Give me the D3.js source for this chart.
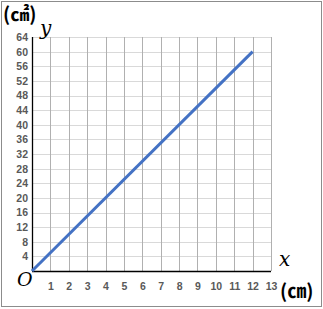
<!DOCTYPE html>
<html>
<head>
<meta charset="utf-8">
<script src="https://cdn.jsdelivr.net/npm/d3@7"></script>
<style>
  body { margin: 0; background: #fff; }
</style>
</head>
<body>
<div id="chart"></div>
<script>
// Data
const xValues = [0, 12];
const yValues = [0, 60];
const xTicks = [1, 2, 3, 4, 5, 6, 7, 8, 9, 10, 11, 12, 13];
const yTicks = [4, 8, 12, 16, 20, 24, 28, 32, 36, 40, 44, 48, 52, 56, 60, 64];

// Constant
const width = 323;
const height = 309;
const margin = {top: 37, right: 52, bottom: 38, left: 32};
const innerWidth = width - margin.left - margin.right;
const innerHeight = height - margin.top - margin.bottom;
const lineColor = '#4472C4';
const labelColor = '#595959';
const jpFont = '"Noto Sans CJK JP", "Noto Sans", sans-serif';
const mathFont = '"DejaVu Serif", "Liberation Serif", serif';

const xScale = d3.scaleLinear().domain([0, 13]).range([0, innerWidth]);
const yScale = d3.scaleLinear().domain([0, 64]).range([innerHeight, 0]);

const svg = d3.select('#chart')
    .append('svg')
        .attr('width', width)
        .attr('height', height);

// outer frame
svg.append('rect')
    .attr('x', 1.5)
    .attr('y', 1.5)
    .attr('width', 320)
    .attr('height', 305)
    .attr('fill', 'none')
    .attr('stroke', '#8c8c8c')
    .attr('stroke-width', 1);

const g = svg.append('g')
    .attr('transform', `translate(${margin.left},${margin.top})`);

// horizontal grid
g.selectAll('.hGrid')
    .data(yTicks)
    .enter()
    .append('line')
    .attr('class', 'hGrid')
    .attr('x1', 0)
    .attr('x2', innerWidth)
    .attr('y1', d => Math.round(yScale(d)) + 0.5)
    .attr('y2', d => Math.round(yScale(d)) + 0.5)
    .attr('stroke', '#d9d9d9');

// vertical grid
g.selectAll('.vGrid')
    .data(xTicks)
    .enter()
    .append('line')
    .attr('class', 'vGrid')
    .attr('x1', d => Math.round(xScale(d)) + 0.5)
    .attr('x2', d => Math.round(xScale(d)) + 0.5)
    .attr('y1', 0)
    .attr('y2', innerHeight)
    .attr('stroke', '#b0b0b0');

// axes
const xAxis = g.append('g')
    .attr('transform', `translate(0,${innerHeight})`)
    .call(d3.axisBottom(xScale).tickValues(xTicks).tickSize(0).tickPadding(12));

const yAxis = g.append('g')
    .call(d3.axisLeft(yScale).tickValues(yTicks).tickSize(0).tickPadding(4));

[xAxis, yAxis].forEach(a => {
    a.select('.domain').attr('stroke', '#000').attr('stroke-width', 1.3);
    a.selectAll('text')
        .attr('fill', labelColor)
        .style('font-family', '"Liberation Sans", Arial, sans-serif')
        .style('font-size', '10.5px')
        .style('font-weight', 'bold');
});
xAxis.select('.domain').attr('d', `M0,0.5H${innerWidth}`);
yAxis.select('.domain').attr('d', `M0.5,0V${innerHeight}`);

// data line
const line = d3.line()
    .x(d => xScale(d[0]))
    .y(d => yScale(d[1]));

g.append('path')
    .datum(xValues.map((x, i) => [x, yValues[i]]))
    .attr('d', line)
    .attr('fill', 'none')
    .attr('stroke', lineColor)
    .attr('stroke-width', 3);

// axis letters
svg.append('text')
    .attr('x', 40)
    .attr('y', 35)
    .style('font-family', mathFont)
    .style('font-style', 'italic')
    .style('font-size', '20px')
    .text('y');

svg.append('text')
    .attr('x', 279)
    .attr('y', 266)
    .style('font-family', mathFont)
    .style('font-style', 'italic')
    .style('font-size', '20px')
    .text('x');

svg.append('text')
    .attr('x', 17)
    .attr('y', 286)
    .style('font-family', mathFont)
    .style('font-style', 'italic')
    .style('font-size', '19px')
    .text('O');

// units
svg.append('text')
    .attr('x', 3)
    .attr('y', 21)
    .style('font-family', jpFont)
    .style('font-size', '19px')
    .style('font-weight', 'bold')
    .text('(㎠)');

svg.append('text')
    .attr('x', 280)
    .attr('y', 298)
    .style('font-family', jpFont)
    .style('font-size', '19px')
    .style('font-weight', 'bold')
    .text('(㎝)');
</script>
</body>
</html>
